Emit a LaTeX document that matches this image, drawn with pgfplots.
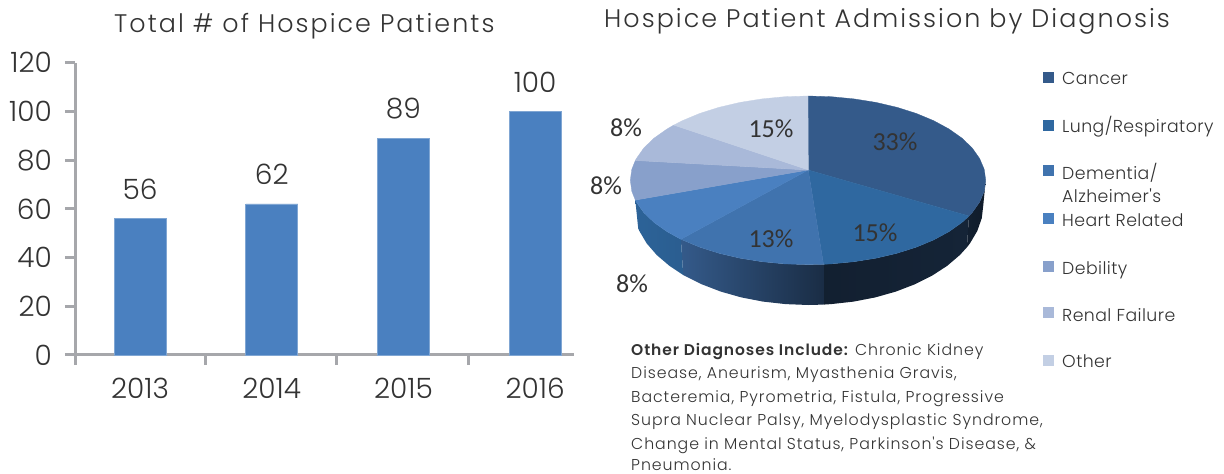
\documentclass[border=0pt]{standalone}
\usepackage{fontspec}
\usepackage{pgfplots}
\pgfplotsset{compat=1.18}
\setmainfont{Poppins}
\newfontfamily\fthin{Poppins Light}
\newfontfamily\fttl[LetterSpace=8]{Poppins Light}
\newfontfamily\flgd[LetterSpace=2.5]{Poppins Light}
\newfontfamily\fbody[LetterSpace=6]{Poppins Light}
\newfontfamily\fbodyb[LetterSpace=6]{Poppins SemiBold}
\newfontfamily\fcal{Carlito}
\definecolor{txt}{HTML}{333333}
\definecolor{cA}{HTML}{345A8A}
\definecolor{cB}{HTML}{2F68A0}
\definecolor{cC}{HTML}{4073AE}
\definecolor{cD}{HTML}{4A80C0}
\definecolor{cE}{HTML}{88A0CB}
\definecolor{cF}{HTML}{A9B9D9}
\definecolor{cG}{HTML}{C3CFE4}
\definecolor{axc}{HTML}{A6A7AB}
\begin{document}
\begin{tikzpicture}[x=1pt,y=1pt]
\clip (0,0) rectangle (1224,474);
\begin{axis}[name=canvas,at={(0,0)},anchor=south west,scale only axis,width=1224pt,height=474pt,
  xmin=0,xmax=1224,ymin=0,ymax=474,y dir=reverse,hide axis,clip=false]
% pie side
\addplot[draw=none,left color=black!65!cA,right color=black!70!cA] coordinates {(985.7,180.3)(984.2,191.3)(979.6,202.1)(972.2,212.6)(969.0,216.0)(966.9,247.3)(970,243.3)(977.3,230.9)(981.8,218.1)(983.3,205)} --cycle;
\addplot[draw=none,left color=black!65!cA,right color=black!60!cA] coordinates {(969.0,216.0)(961.9,222.5)(949,231.6)(933.7,239.9)(916.2,247.2)(896.9,253.3)(876,258.2)(854,261.7)(831.2,263.9)(823.5,264.3)(823.5,304.6)(831.1,304.1)(853.6,301.6)(875.3,297.4)(895.8,291.6)(914.8,284.3)(932,275.7)(947.1,265.9)(959.9,255)(966.9,247.3)} --cycle;
\addplot[draw=none,left color=cA,right color=black!50!cA] coordinates {(823.5,264.3)(808,264.6)(784.8,263.9)(762,261.7)(740,258.2)(719.1,253.3)(699.8,247.2)(680.9,239.3)(683.2,275)(701.8,284.3)(720.8,291.6)(741.3,297.4)(763,301.6)(785.5,304.1)(808.3,305)(823.5,304.6)} --cycle;
\addplot[draw=none,left color=black!5!cB,right color=black!10!cB] coordinates {(680.9,239.3)(667,231.6)(654.1,222.5)(643.8,212.6)(636.4,202.1)(635.3,200.1)(638.2,228.5)(639.3,230.9)(646.6,243.3)(656.7,255)(669.5,265.9)(683.2,275)} --cycle;
% pie top
\addplot[fill=cA,draw=cA,line width=.3pt] coordinates {(808.3,170)(808,96)(831.2,96.7)(854,98.9)(876,102.4)(896.9,107.3)(916.2,113.4)(933.7,120.7)(949,129)(961.9,138.1)(972.2,148)(979.6,158.5)(984.2,169.3)(985.7,180.3)(984.2,191.3)(979.6,202.1)(972.2,212.6)(969.0,216.0)} --cycle;
\addplot[fill=cB,draw=cB,line width=.3pt] coordinates {(808.3,170)(969.0,216.0)(961.9,222.5)(949,231.6)(933.7,239.9)(916.2,247.2)(896.9,253.3)(876,258.2)(854,261.7)(831.2,263.9)(823.5,264.3)} --cycle;
\addplot[fill=cC,draw=cC,line width=.3pt] coordinates {(808.3,170)(823.5,264.3)(808,264.6)(784.8,263.9)(762,261.7)(740,258.2)(719.1,253.3)(699.8,247.2)(680.9,239.3)} --cycle;
\addplot[fill=cD,draw=cD,line width=.3pt] coordinates {(808.3,170)(680.9,239.3)(667,231.6)(654.1,222.5)(643.8,212.6)(636.4,202.1)(635.3,200.1)} --cycle;
\addplot[fill=cE,draw=cE,line width=.3pt] coordinates {(808.3,170)(635.3,200.1)(631.8,191.3)(630.3,180.3)(631.8,169.3)(635.3,160.5)} --cycle;
\addplot[fill=cF,draw=cF,line width=.3pt] coordinates {(808.3,170)(635.3,160.5)(636.4,158.5)(643.8,148)(654.1,138.1)(667,129)(673.7,125.1)} --cycle;
\addplot[fill=cG,draw=cG,line width=.3pt] coordinates {(808.3,170)(673.7,125.1)(682.3,120.7)(699.8,113.4)(719.1,107.3)(740,102.4)(762,98.9)(784.8,96.7)(808,96)} --cycle;
% legend swatches
\addplot[only marks,mark=square*,mark size=5pt,mark options={draw=cA,fill=cA}] coordinates {(1048,76.7)};
\addplot[only marks,mark=square*,mark size=5pt,mark options={draw=cB,fill=cB}] coordinates {(1048,125)};
\addplot[only marks,mark=square*,mark size=5pt,mark options={draw=cC,fill=cC}] coordinates {(1048,170)};
\addplot[only marks,mark=square*,mark size=5pt,mark options={draw=cD,fill=cD}] coordinates {(1048,218)};
\addplot[only marks,mark=square*,mark size=5pt,mark options={draw=cE,fill=cE}] coordinates {(1048,266)};
\addplot[only marks,mark=square*,mark size=5pt,mark options={draw=cF,fill=cF}] coordinates {(1048,312)};
\addplot[only marks,mark=square*,mark size=5pt,mark options={draw=cG,fill=cG}] coordinates {(1048,360)};
% pie labels
\tikzset{pl/.style={text=txt,font=\fcal\fontsize{26}{26}\selectfont,inner sep=0pt}}
\node[pl] at (axis cs:895,141.7) {33\%};
\node[pl] at (axis cs:875,233) {15\%};
\node[pl] at (axis cs:771,239) {13\%};
\node[pl] at (axis cs:771,129) {15\%};
\node[pl] at (axis cs:626,127.7) {8\%};
\node[pl] at (axis cs:606,186) {8\%};
\node[pl] at (axis cs:632,284) {8\%};
% titles
\tikzset{tt/.style={text=txt,font=\fttl\fontsize{25.4}{25.4}\selectfont,inner sep=0pt,anchor=base west}}
\node[tt] at (axis cs:114,32) {Total \# of Hospice Patients};
\node[tt] at (axis cs:604,27) {Hospice Patient Admission by Diagnosis};
% legend text
\tikzset{lg/.style={text=txt,font=\flgd\fontsize{17.3}{17.3}\selectfont,inner sep=0pt,anchor=base west}}
\node[lg] at (axis cs:1062,84) {Cancer};
\node[lg] at (axis cs:1062,132) {Lung/Respiratory};
\node[lg] at (axis cs:1062,179) {Dementia/};
\node[lg] at (axis cs:1062,202) {Alzheimer's};
\node[lg] at (axis cs:1062,226) {Heart Related};
\node[lg] at (axis cs:1062,274) {Debility};
\node[lg] at (axis cs:1062,321) {Renal Failure};
\node[lg] at (axis cs:1062,367) {Other};
% note
\tikzset{bd/.style={text=txt,font=\fbody\fontsize{15.75}{15.75}\selectfont,inner sep=0pt,anchor=base west}}
\node[bd] at (axis cs:631,355) {{\fbodyb\fontsize{15.5}{15.5}\selectfont Other Diagnoses Include:} Chronic Kidney};
\node[bd] at (axis cs:631,378) {Disease, Aneurism, Myasthenia Gravis,};
\node[bd] at (axis cs:631,402) {Bacteremia, Pyrometria, Fistula, Progressive};
\node[bd] at (axis cs:631,425) {Supra Nuclear Palsy, Myelodysplastic Syndrome,};
\node[bd] at (axis cs:631,449) {Change in Mental Status, Parkinson's Disease, \&};
\node[bd] at (axis cs:631,470) {Pneumonia.};
\end{axis}
\begin{axis}[at={(75pt,119pt)},anchor=south west,scale only axis,width=499pt,height=292.3pt,
  xmin=-0.494,xmax=3.295,ymin=0,ymax=120,
  axis x line=bottom,axis y line=left,axis line style={draw=axc,line width=3pt,-},
  ytick={0,20,...,120},
  xtick={0,1,2,3},xticklabels={2013,2014,2015,2016},
  minor xtick={-0.494,0.5,1.495,2.497},
  tick align=outside,major tick length=10pt,minor tick length=10pt,
  y tick style={draw=axc,line width=3pt},
  xtick style={draw=none},
  minor x tick style={draw=axc,line width=3pt},
  tick label style={font=\fthin\fontsize{28}{28}\selectfont,text=txt},
  /pgf/number format/assume math mode=true,
  /pgf/number format/1000 sep={},
  yticklabel style={anchor=east,xshift=-13pt,inner sep=0pt},
  xticklabel style={anchor=base,yshift=-33pt,inner sep=0pt},
  ybar,bar width=52pt,
  nodes near coords,
  every node near coord/.append style={font=\fthin\fontsize{28}{28}\selectfont,text=txt,yshift=19pt,inner sep=0pt,anchor=south},
  clip=false]
\addplot[fill=cD,draw=cD!70!white,line width=.6pt] coordinates {(0,56)(1,62)(2,89)(3,100)};
\end{axis}
\end{tikzpicture}
\end{document}
